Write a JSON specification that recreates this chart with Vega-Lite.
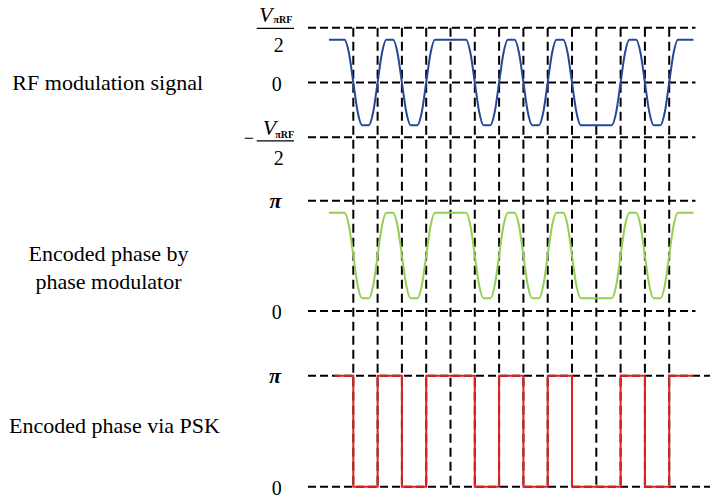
{
  "$schema": "https://vega.github.io/schema/vega-lite/v6.json",
  "width": 712,
  "height": 500,
  "autosize": {"type": "fit", "contains": "padding"},
  "padding": 0,
  "background": "white",
  "config": {
    "view": {"stroke": null},
    "axis": {"disable": true},
    "mark": {"font": "Liberation Serif, Times New Roman, DejaVu Serif, serif"},
    "text": {"font": "Liberation Serif, Times New Roman, DejaVu Serif, serif", "color": "black", "align": "center", "baseline": "alphabetic"}
  },
  "datasets": {
    "wave": [
      {"t": 0, "rf": 0.39, "phase": 2.8},
      {"t": 0.64, "rf": 0.39, "phase": 2.8},
      {"t": 0.82, "rf": 0.27, "phase": 2.43},
      {"t": 1, "rf": 0, "phase": 1.58},
      {"t": 1.18, "rf": -0.27, "phase": 0.73},
      {"t": 1.36, "rf": -0.39, "phase": 0.36},
      {"t": 1.64, "rf": -0.39, "phase": 0.36},
      {"t": 1.82, "rf": -0.27, "phase": 0.73},
      {"t": 2, "rf": 0, "phase": 1.58},
      {"t": 2.18, "rf": 0.27, "phase": 2.43},
      {"t": 2.36, "rf": 0.39, "phase": 2.8},
      {"t": 2.64, "rf": 0.39, "phase": 2.8},
      {"t": 2.82, "rf": 0.27, "phase": 2.43},
      {"t": 3, "rf": 0, "phase": 1.58},
      {"t": 3.18, "rf": -0.27, "phase": 0.73},
      {"t": 3.36, "rf": -0.39, "phase": 0.36},
      {"t": 3.64, "rf": -0.39, "phase": 0.36},
      {"t": 3.82, "rf": -0.27, "phase": 0.73},
      {"t": 4, "rf": 0, "phase": 1.58},
      {"t": 4.18, "rf": 0.27, "phase": 2.43},
      {"t": 4.36, "rf": 0.39, "phase": 2.8},
      {"t": 5.64, "rf": 0.39, "phase": 2.8},
      {"t": 5.82, "rf": 0.27, "phase": 2.43},
      {"t": 6, "rf": 0, "phase": 1.58},
      {"t": 6.18, "rf": -0.27, "phase": 0.73},
      {"t": 6.36, "rf": -0.39, "phase": 0.36},
      {"t": 6.64, "rf": -0.39, "phase": 0.36},
      {"t": 6.82, "rf": -0.27, "phase": 0.73},
      {"t": 7, "rf": 0, "phase": 1.58},
      {"t": 7.18, "rf": 0.27, "phase": 2.43},
      {"t": 7.36, "rf": 0.39, "phase": 2.8},
      {"t": 7.64, "rf": 0.39, "phase": 2.8},
      {"t": 7.82, "rf": 0.27, "phase": 2.43},
      {"t": 8, "rf": 0, "phase": 1.58},
      {"t": 8.18, "rf": -0.27, "phase": 0.73},
      {"t": 8.36, "rf": -0.39, "phase": 0.36},
      {"t": 8.64, "rf": -0.39, "phase": 0.36},
      {"t": 8.82, "rf": -0.27, "phase": 0.73},
      {"t": 9, "rf": 0, "phase": 1.58},
      {"t": 9.18, "rf": 0.27, "phase": 2.43},
      {"t": 9.36, "rf": 0.39, "phase": 2.8},
      {"t": 9.64, "rf": 0.39, "phase": 2.8},
      {"t": 9.82, "rf": 0.27, "phase": 2.43},
      {"t": 10, "rf": 0, "phase": 1.58},
      {"t": 10.18, "rf": -0.27, "phase": 0.73},
      {"t": 10.36, "rf": -0.39, "phase": 0.36},
      {"t": 11.64, "rf": -0.39, "phase": 0.36},
      {"t": 11.82, "rf": -0.27, "phase": 0.73},
      {"t": 12, "rf": 0, "phase": 1.58},
      {"t": 12.18, "rf": 0.27, "phase": 2.43},
      {"t": 12.36, "rf": 0.39, "phase": 2.8},
      {"t": 12.64, "rf": 0.39, "phase": 2.8},
      {"t": 12.82, "rf": 0.27, "phase": 2.43},
      {"t": 13, "rf": 0, "phase": 1.58},
      {"t": 13.18, "rf": -0.27, "phase": 0.73},
      {"t": 13.36, "rf": -0.39, "phase": 0.36},
      {"t": 13.64, "rf": -0.39, "phase": 0.36},
      {"t": 13.82, "rf": -0.27, "phase": 0.73},
      {"t": 14, "rf": 0, "phase": 1.58},
      {"t": 14.18, "rf": 0.27, "phase": 2.43},
      {"t": 14.36, "rf": 0.39, "phase": 2.8},
      {"t": 15, "rf": 0.39, "phase": 2.8}
    ],
    "psk": [
      {"t": 0.23, "psk": 3.1416},
      {"t": 1, "psk": 0},
      {"t": 2, "psk": 3.1416},
      {"t": 3, "psk": 0},
      {"t": 4, "psk": 3.1416},
      {"t": 6, "psk": 0},
      {"t": 7, "psk": 3.1416},
      {"t": 8, "psk": 0},
      {"t": 9, "psk": 3.1416},
      {"t": 10, "psk": 0},
      {"t": 12, "psk": 3.1416},
      {"t": 13, "psk": 0},
      {"t": 14, "psk": 3.1416},
      {"t": 15, "psk": 3.1416}
    ],
    "bounds": [
      {"t": 1}, {"t": 2}, {"t": 3}, {"t": 4}, {"t": 5}, {"t": 6}, {"t": 7},
      {"t": 8}, {"t": 9}, {"t": 10}, {"t": 11}, {"t": 12}, {"t": 13}, {"t": 14}
    ],
    "rfLevels": [{"level": 0.5}, {"level": 0}, {"level": -0.5}],
    "phaseLevels": [{"level": 0}, {"level": 3.1416}]
  },
  "resolve": {"scale": {"y": "independent"}},
  "layer": [
    {
      "layer": [
        {
          "data": {"name": "bounds"},
          "mark": {"type": "rule", "color": "black", "strokeWidth": 2, "strokeDash": [9, 5]},
          "encoding": {
            "x": {"field": "t", "type": "quantitative", "scale": {"domain": [-13.539, 15.761], "nice": false, "zero": false}},
            "y": {"datum": 0.5, "type": "quantitative", "scale": {"domain": [-3.8128, 0.7534], "nice": false, "zero": false}},
            "y2": {"datum": -3.6913}
          }
        },
        {
          "data": {"name": "rfLevels"},
          "mark": {"type": "rule", "color": "black", "strokeWidth": 2, "strokeDash": [8, 4]},
          "encoding": {
            "y": {"field": "level", "type": "quantitative", "scale": {"domain": [-3.8128, 0.7534], "nice": false, "zero": false}},
            "x": {"datum": -0.864, "type": "quantitative"},
            "x2": {"datum": 15.08}
          }
        },
        {
          "data": {"name": "wave"},
          "mark": {"type": "line", "interpolate": "monotone", "color": "#24479a", "strokeWidth": 2},
          "encoding": {
            "x": {"field": "t", "type": "quantitative"},
            "y": {"field": "rf", "type": "quantitative", "scale": {"domain": [-3.8128, 0.7534], "nice": false, "zero": false}}
          }
        },
        {
          "data": {"values": [{"text": "RF modulation signal", "t": -9.107, "v": -0.07}]},
          "mark": {"type": "text", "fontSize": 22, "font": "Liberation Serif"},
          "encoding": {
            "x": {"field": "t", "type": "quantitative"},
            "y": {"field": "v", "type": "quantitative", "scale": {"domain": [-3.8128, 0.7534], "nice": false, "zero": false}},
            "text": {"field": "text"}
          }
        },
        {
          "data": {"values": [
            {"text": "0", "t": -2.152, "v": -0.08},
            {"text": "2", "t": -2.07, "v": 0.2785},
            {"text": "2", "t": -2.07, "v": -0.749}
          ]},
          "mark": {"type": "text", "fontSize": 20, "font": "Liberation Serif"},
          "encoding": {
            "x": {"field": "t", "type": "quantitative"},
            "y": {"field": "v", "type": "quantitative", "scale": {"domain": [-3.8128, 0.7534], "nice": false, "zero": false}},
            "text": {"field": "text"}
          }
        },
        {
          "data": {"values": [
            {"text": "V", "t": -2.6, "v": 0.5525},
            {"text": "V", "t": -2.45, "v": -0.479}
          ]},
          "mark": {"type": "text", "fontSize": 22, "fontStyle": "italic", "font": "Liberation Serif"},
          "encoding": {
            "x": {"field": "t", "type": "quantitative"},
            "y": {"field": "v", "type": "quantitative", "scale": {"domain": [-3.8128, 0.7534], "nice": false, "zero": false}},
            "text": {"field": "text"}
          }
        },
        {
          "data": {"values": [
            {"text": "πRF", "t": -1.9, "v": 0.543},
            {"text": "πRF", "t": -1.82, "v": -0.507}
          ]},
          "mark": {"type": "text", "fontSize": 10, "fontWeight": "bold", "font": "Liberation Serif"},
          "encoding": {
            "x": {"field": "t", "type": "quantitative"},
            "y": {"field": "v", "type": "quantitative", "scale": {"domain": [-3.8128, 0.7534], "nice": false, "zero": false}},
            "text": {"field": "text"}
          }
        },
        {
          "data": {"values": [
            {"t": -2.975, "t2": -1.44, "v": 0.495},
            {"t": -2.975, "t2": -1.44, "v": -0.534}
          ]},
          "mark": {"type": "rule", "color": "black", "strokeWidth": 1.3},
          "encoding": {
            "x": {"field": "t", "type": "quantitative"},
            "x2": {"field": "t2"},
            "y": {"field": "v", "type": "quantitative", "scale": {"domain": [-3.8128, 0.7534], "nice": false, "zero": false}}
          }
        },
        {
          "data": {"values": [{"text": "−", "t": -3.3, "v": -0.566}]},
          "mark": {"type": "text", "fontSize": 18, "font": "Liberation Serif"},
          "encoding": {
            "x": {"field": "t", "type": "quantitative"},
            "y": {"field": "v", "type": "quantitative", "scale": {"domain": [-3.8128, 0.7534], "nice": false, "zero": false}},
            "text": {"field": "text"}
          }
        }
      ]
    },
    {
      "layer": [
        {
          "data": {"name": "phaseLevels"},
          "mark": {"type": "rule", "color": "black", "strokeWidth": 2, "strokeDash": [8, 4]},
          "encoding": {
            "y": {"field": "level", "type": "quantitative", "scale": {"domain": [-5.383, 8.858], "nice": false, "zero": false}},
            "x": {"datum": -0.864, "type": "quantitative"},
            "x2": {"datum": 15.08}
          }
        },
        {
          "data": {"name": "wave"},
          "mark": {"type": "line", "interpolate": "monotone", "color": "#92d050", "strokeWidth": 2},
          "encoding": {
            "x": {"field": "t", "type": "quantitative"},
            "y": {"field": "phase", "type": "quantitative", "scale": {"domain": [-5.383, 8.858], "nice": false, "zero": false}}
          }
        },
        {
          "data": {"values": [
            {"text": "Encoded phase by", "t": -9.074, "v": 1.438},
            {"text": "phase modulator", "t": -9.074, "v": 0.627}
          ]},
          "mark": {"type": "text", "fontSize": 22, "font": "Liberation Serif"},
          "encoding": {
            "x": {"field": "t", "type": "quantitative"},
            "y": {"field": "v", "type": "quantitative", "scale": {"domain": [-5.383, 8.858], "nice": false, "zero": false}},
            "text": {"field": "text"}
          }
        },
        {
          "data": {"values": [{"text": "π", "t": -2.202, "v": 2.925}]},
          "mark": {"type": "text", "fontSize": 22, "fontStyle": "italic", "fontWeight": "bold", "font": "Liberation Serif"},
          "encoding": {
            "x": {"field": "t", "type": "quantitative"},
            "y": {"field": "v", "type": "quantitative", "scale": {"domain": [-5.383, 8.858], "nice": false, "zero": false}},
            "text": {"field": "text"}
          }
        },
        {
          "data": {"values": [{"text": "0", "t": -2.152, "v": -0.228}]},
          "mark": {"type": "text", "fontSize": 20, "font": "Liberation Serif"},
          "encoding": {
            "x": {"field": "t", "type": "quantitative"},
            "y": {"field": "v", "type": "quantitative", "scale": {"domain": [-5.383, 8.858], "nice": false, "zero": false}},
            "text": {"field": "text"}
          }
        }
      ]
    },
    {
      "layer": [
        {
          "data": {"name": "phaseLevels"},
          "mark": {"type": "rule", "color": "black", "strokeWidth": 2, "strokeDash": [8, 4]},
          "encoding": {
            "y": {"field": "level", "type": "quantitative", "scale": {"domain": [-0.3764, 13.776], "nice": false, "zero": false}},
            "x": {"datum": -0.864, "type": "quantitative"},
            "x2": {"datum": 15.68}
          }
        },
        {
          "data": {"name": "psk"},
          "mark": {"type": "line", "interpolate": "step-after", "color": "#e3211c", "strokeWidth": 2},
          "encoding": {
            "x": {"field": "t", "type": "quantitative"},
            "y": {"field": "psk", "type": "quantitative", "scale": {"domain": [-0.3764, 13.776], "nice": false, "zero": false}}
          }
        },
        {
          "data": {"values": [{"text": "Encoded phase via PSK", "t": -8.827, "v": 1.52}]},
          "mark": {"type": "text", "fontSize": 22, "font": "Liberation Serif"},
          "encoding": {
            "x": {"field": "t", "type": "quantitative"},
            "y": {"field": "v", "type": "quantitative", "scale": {"domain": [-0.3764, 13.776], "nice": false, "zero": false}},
            "text": {"field": "text"}
          }
        },
        {
          "data": {"values": [{"text": "π", "t": -2.222, "v": 2.935}]},
          "mark": {"type": "text", "fontSize": 22, "fontStyle": "italic", "fontWeight": "bold", "font": "Liberation Serif"},
          "encoding": {
            "x": {"field": "t", "type": "quantitative"},
            "y": {"field": "v", "type": "quantitative", "scale": {"domain": [-0.3764, 13.776], "nice": false, "zero": false}},
            "text": {"field": "text"}
          }
        },
        {
          "data": {"values": [{"text": "0", "t": -2.152, "v": -0.235}]},
          "mark": {"type": "text", "fontSize": 20, "font": "Liberation Serif"},
          "encoding": {
            "x": {"field": "t", "type": "quantitative"},
            "y": {"field": "v", "type": "quantitative", "scale": {"domain": [-0.3764, 13.776], "nice": false, "zero": false}},
            "text": {"field": "text"}
          }
        }
      ]
    }
  ]
}
